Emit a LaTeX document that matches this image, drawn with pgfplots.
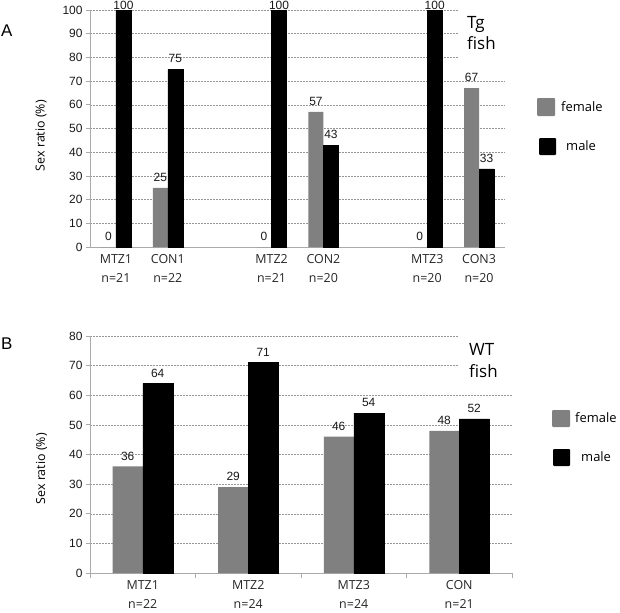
\documentclass[border=0pt]{standalone}
\usepackage{pgfplots}
\pgfplotsset{compat=1.18}
\usepackage{fontspec}
\setmainfont{Liberation Sans}
\newfontfamily\osans{Open Sans}
\definecolor{barGray}{RGB}{128,128,128}
\definecolor{axGray}{RGB}{170,170,170}
\definecolor{gridGray}{RGB}{150,150,150}
\pgfplotsset{
  /pgf/number format/assume math mode=true,
  sexbase/.style={
    scale only axis,
    anchor=south west,
    ymin=0,
    clip=false,
    ymajorgrids,
    grid style={gridGray, dash pattern=on 2bp off 1bp, line width=0.5bp},
    axis x line*=bottom,
    axis y line*=left,
    axis line style={axGray, -, line width=0.8bp},
    ytick style={axGray, line width=0.8bp},
    major tick length=4bp,
    tick align=outside,
    yticklabel style={font=\fontsize{12}{12}\selectfont, text=black!90},
    xticklabel style={font=\osans\fontsize{12.5}{19}\selectfont, align=center, text=black!85},
    ybar=0pt,
    nodes near coords,
    every node near coord/.append style={font=\fontsize{12}{12}\selectfont, anchor=south, inner sep=0pt, yshift=6bp, text=black!90},
    coordinate style/.condition={y>99}{yshift=-5.5bp},
  }
}
\begin{document}
\begin{tikzpicture}
\path[use as bounding box] (0bp,0bp) rectangle (620bp,-613bp);
% Panel A
\begin{axis}[sexbase,
  at={(90bp,-247bp)},
  width=415bp, height=237bp,
  xmin=-0.5, xmax=7.5, ymax=100,
  ytick={0,10,...,100},
  bar width=15bp,
  xtick={0,1,3,4,6,7},
  xticklabels={{MTZ1\\n=21},{CON1\\n=22},{MTZ2\\n=21},{CON2\\n=20},{MTZ3\\n=20},{CON3\\n=20}},
  x tick style={draw=none},
  ylabel={Sex ratio (\%)},
  ylabel style={font=\osans\fontsize{12.5}{14}\selectfont, at={(axis description cs:-0.118,0.47)}, anchor=center},
]
\addplot[fill=barGray, draw=none] coordinates {(0,0) (1,25) (3,0) (4,57) (6,0) (7,67)};
\addplot[fill=black, draw=black] coordinates {(0,100) (1,75) (3,100) (4,43) (6,100) (7,33)};
\end{axis}
% Panel B
\begin{axis}[sexbase,
  at={(90bp,-573bp)},
  width=422bp, height=237bp,
  xmin=-0.5, xmax=3.5, ymax=80,
  ytick={0,10,...,80},
  bar width=30bp,
  xtick={0,1,2,3},
  xticklabels={{MTZ1\\n=22},{MTZ2\\n=24},{MTZ3\\n=24},{CON\\n=21}},
  minor xtick={-0.5,0.5,1.5,2.5,3.5},
  x tick style={draw=none},
  minor x tick style={draw=axGray, line width=0.8bp},
  minor tick length=5bp,
  ylabel={Sex ratio (\%)},
  ylabel style={font=\osans\fontsize{12.5}{14}\selectfont, at={(axis description cs:-0.115,0.44)}, anchor=center},
]
\addplot[fill=barGray, draw=none] coordinates {(0,36) (1,29) (2,46) (3,48)};
\addplot[fill=black, draw=black] coordinates {(0,64) (1,71) (2,54) (3,52)};
\end{axis}
% panel letters
\node[anchor=west, font=\fontsize{17}{17}\selectfont, inner sep=0pt] at (1bp,-31bp) {A};
\node[anchor=west, font=\fontsize{17}{17}\selectfont, inner sep=0pt] at (1bp,-344bp) {B};
% Tg fish / WT fish boxes
\fill[white] (458bp,-2bp) rectangle (506bp,-62bp);
\node[anchor=base west, inner sep=0pt, font=\osans\fontsize{17}{17}\selectfont] at (467bp,-28bp) {Tg};
\node[anchor=base west, inner sep=0pt, font=\osans\fontsize{17}{17}\selectfont] at (467bp,-49bp) {fish};
\fill[white] (458bp,-333bp) rectangle (513bp,-381bp);
\node[anchor=base west, inner sep=0pt, font=\osans\fontsize{17}{17}\selectfont] at (469bp,-355bp) {WT};
\node[anchor=base west, inner sep=0pt, font=\osans\fontsize{17}{17}\selectfont] at (469bp,-377bp) {fish};
% legends
\fill[barGray, rounded corners=1bp] (537bp,-98bp) rectangle (555bp,-116bp);
\node[anchor=west, inner sep=0pt, font=\osans\fontsize{13}{13}\selectfont] at (561bp,-107bp) {female};
\fill[black, rounded corners=1bp] (539bp,-138bp) rectangle (556bp,-155bp);
\node[anchor=west, inner sep=0pt, font=\osans\fontsize{13}{13}\selectfont] at (566bp,-146bp) {male};
\fill[barGray, rounded corners=1bp] (552bp,-410bp) rectangle (570bp,-427bp);
\node[anchor=west, inner sep=0pt, font=\osans\fontsize{13}{13}\selectfont] at (575bp,-418bp) {female};
\fill[black, rounded corners=1bp] (553bp,-449bp) rectangle (570bp,-466bp);
\node[anchor=west, inner sep=0pt, font=\osans\fontsize{13}{13}\selectfont] at (581bp,-457bp) {male};
\end{tikzpicture}
\end{document}
